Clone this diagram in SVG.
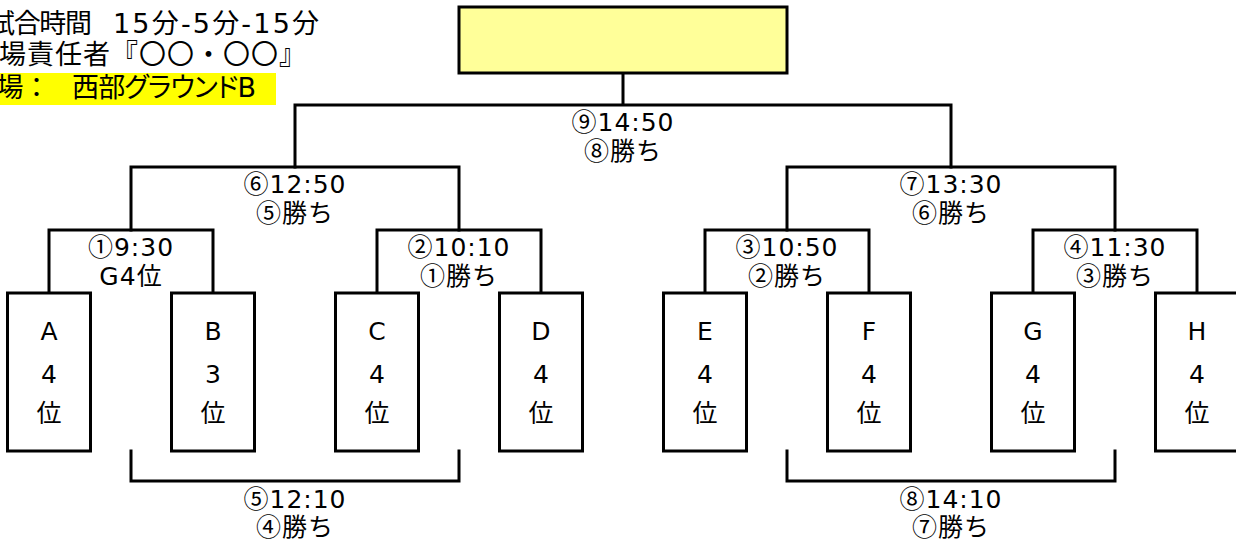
<svg xmlns="http://www.w3.org/2000/svg" width="1236" height="542" viewBox="0 0 1236 542">
<style>
text{font-family:"DejaVu Sans","Noto Sans CJK JP",sans-serif;font-size:25px;fill:#000}
.c{text-anchor:middle}
.lb{letter-spacing:1px}
.n{font-family:"Noto Sans CJK JP",sans-serif}
.hdr{font-size:27px}
.p{font-feature-settings:"palt" 1}
.box{fill:#fff;stroke:#000;stroke-width:3}
.ln{fill:none;stroke:#000;stroke-width:3;stroke-linecap:square}
</style>
<rect width="1236" height="542" fill="#fff"/>
<g id="header">
<text class="hdr" x="-12" y="33" textLength="104">試合時間</text>
<text class="hdr" x="113" y="33" textLength="206">15分-5分-15分</text>
<text class="hdr" x="-29" y="64" textLength="335">会場責任者『〇〇・〇〇』</text>
<rect x="0" y="73" width="276" height="32" fill="#ffff00"/>
<text class="hdr" x="-30" y="97" textLength="80">会場：</text>
<text class="hdr p" x="72" y="97" textLength="184">西部グラウンドB</text>
</g>
<g id="connectors">
<path class="ln" d="M623 73V105M295 167V105H951V167"/>
<path class="ln" d="M131 230V167H459V230M787 230V167H1115V230"/>
<path class="ln" d="M49 293V230H213V293M377 293V230H541V293M705 293V230H869V293M1033 293V230H1197V293"/>
<path class="ln" d="M131 451V481H459V451M787 451V481H1115V451"/>
</g>
<g id="labels">
<text class="c lb" x="623" y="131"><tspan class="n">⑨</tspan>14:50</text><text class="c lb" x="623" y="160"><tspan class="n">⑧</tspan>勝ち</text>
<text class="c lb" x="295" y="193"><tspan class="n">⑥</tspan>12:50</text><text class="c lb" x="295" y="222"><tspan class="n">⑤</tspan>勝ち</text>
<text class="c lb" x="951" y="193"><tspan class="n">⑦</tspan>13:30</text><text class="c lb" x="951" y="222"><tspan class="n">⑥</tspan>勝ち</text>
<text class="c lb" x="131" y="256"><tspan class="n">①</tspan>9:30</text><text class="c lb" x="131" y="285">G4位</text>
<text class="c lb" x="459" y="256"><tspan class="n">②</tspan>10:10</text><text class="c lb" x="459" y="285"><tspan class="n">①</tspan>勝ち</text>
<text class="c lb" x="787" y="256"><tspan class="n">③</tspan>10:50</text><text class="c lb" x="787" y="285"><tspan class="n">②</tspan>勝ち</text>
<text class="c lb" x="1115" y="256"><tspan class="n">④</tspan>11:30</text><text class="c lb" x="1115" y="285"><tspan class="n">③</tspan>勝ち</text>
<text class="c lb" x="295" y="508"><tspan class="n">⑤</tspan>12:10</text><text class="c lb" x="295" y="536"><tspan class="n">④</tspan>勝ち</text>
<text class="c lb" x="951" y="508"><tspan class="n">⑧</tspan>14:10</text><text class="c lb" x="951" y="536"><tspan class="n">⑦</tspan>勝ち</text>
</g>
<g id="final"><rect x="459" y="7" width="328" height="66" fill="#ffff99" stroke="#000" stroke-width="3"/></g>
<g id="team-A"><rect class="box" x="7.5" y="293" width="83" height="158"/><text class="c" x="49" y="340">A</text><text class="c" x="49" y="383">4</text><text class="c" x="49" y="422">位</text></g>
<g id="team-B"><rect class="box" x="171.5" y="293" width="83" height="158"/><text class="c" x="213" y="340">B</text><text class="c" x="213" y="383">3</text><text class="c" x="213" y="422">位</text></g>
<g id="team-C"><rect class="box" x="335.5" y="293" width="83" height="158"/><text class="c" x="377" y="340">C</text><text class="c" x="377" y="383">4</text><text class="c" x="377" y="422">位</text></g>
<g id="team-D"><rect class="box" x="499.5" y="293" width="83" height="158"/><text class="c" x="541" y="340">D</text><text class="c" x="541" y="383">4</text><text class="c" x="541" y="422">位</text></g>
<g id="team-E"><rect class="box" x="663.5" y="293" width="83" height="158"/><text class="c" x="705" y="340">E</text><text class="c" x="705" y="383">4</text><text class="c" x="705" y="422">位</text></g>
<g id="team-F"><rect class="box" x="827.5" y="293" width="83" height="158"/><text class="c" x="869" y="340">F</text><text class="c" x="869" y="383">4</text><text class="c" x="869" y="422">位</text></g>
<g id="team-G"><rect class="box" x="991.5" y="293" width="83" height="158"/><text class="c" x="1033" y="340">G</text><text class="c" x="1033" y="383">4</text><text class="c" x="1033" y="422">位</text></g>
<g id="team-H"><rect class="box" x="1155.5" y="293" width="83" height="158"/><text class="c" x="1197" y="340">H</text><text class="c" x="1197" y="383">4</text><text class="c" x="1197" y="422">位</text></g>
</svg>
